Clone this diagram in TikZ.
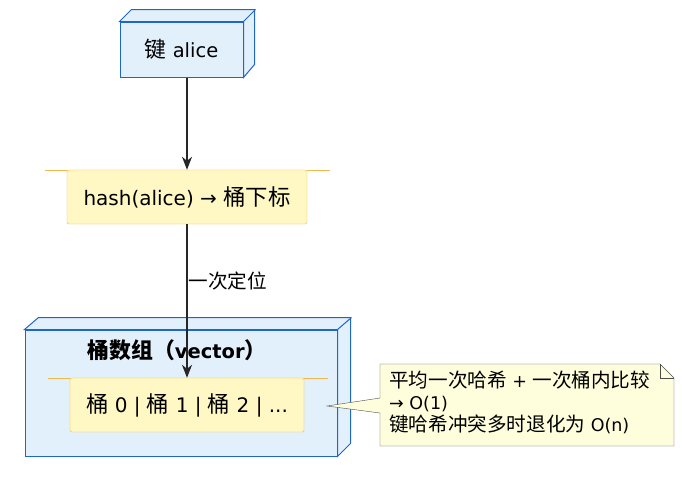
\documentclass[tikz,border=0pt]{standalone}
\usepackage{fontspec}
\setmainfont{DejaVu Sans}
\newfontfamily\cjk{Noto Sans CJK SC}[Scale=1.12]
\newcommand{\zh}[1]{{\cjk #1}}
\usetikzlibrary{arrows.meta,positioning,calc}
\definecolor{nodefill}{HTML}{E2F0FC}
\definecolor{nodeline}{HTML}{1E66C8}
\definecolor{cardfill}{HTML}{FFF8C4}
\definecolor{cardline}{HTML}{F2B84B}
\definecolor{notefill}{HTML}{FEFEDC}
\tikzset{
  box node/.style={
    draw=nodeline,
    fill=nodefill,
    line width=1pt,
    inner sep=0pt
  },
  card/.style={
    draw=cardline,
    fill=cardfill,
    rounded corners=2,
    inner sep=0pt,
    font=\fontsize{20}{24}\selectfont
  },
  flow/.style={
    -{Stealth[length=13pt,width=10pt,inset=4pt]},
    line width=1.3pt,
    draw=black!85
  }
}
\begin{document}
\begin{tikzpicture}[x=1pt,y=-1pt]
    \useasboundingbox (0,0) rectangle (682,480);
    % key node
    \node[box node,minimum width=123pt,minimum height=55pt] (key) at (181.5,49.5) {};
    \draw[nodeline,line width=1pt,fill=nodefill] (key.north west) -- ++(12,-12) -- ++(123,0) -- ++(0,55) -- (key.south east) -- (key.north east) -- cycle;
    \draw[nodeline,line width=1pt] (key.north east) -- ++(12,-12);
    \node[font=\fontsize{19.5}{22}\selectfont] (keytext) at (key) {\zh{键} alice};
    % bucket array
    \node[box node,minimum width=312pt,minimum height=126pt] (array) at (181,393) {};
    \draw[nodeline,line width=1pt,fill=nodefill] (array.north west) -- ++(14,-12) -- ++(312,0) -- ++(0,126) -- (array.south east) -- (array.north east) -- cycle;
    \draw[nodeline,line width=1pt] (array.north east) -- ++(14,-12);
    \node[font=\fontsize{19.5}{22}\selectfont\bfseries] (title) at (177,350) {\zh{\bfseries 桶数组（}vector\zh{\bfseries ）}};
    % cards
    \node[card,minimum width=240pt,minimum height=54pt] (hash) at (187,197) {hash(alice) → \zh{桶下标}};
    \draw[cardline] (hash.north west) -- ++(-22,0) (hash.north east) -- ++(23,0);
    \node[card,minimum width=234pt,minimum height=54pt] (bucket) at (187,405) {\zh{桶} 0 | \zh{桶} 1 | \zh{桶} 2 | ...};
    \draw[cardline] (bucket.north west) -- ++(-22,0) (bucket.north east) -- ++(24,0);
    % note
    \coordinate (tip) at (327,406);
    \draw[black!70,fill=notefill] (380,364) -- (660,364) -- (674,378) -- (674,446) -- (380,446)
      -- (380,413) -- (tip) -- (380,398) -- cycle;
    \draw[black!70] (660,364) -- (660,378) -- (674,378);
    \node[anchor=north west,align=left,inner sep=0pt,font=\fontsize{17.5}{22}\selectfont] (note) at (389,371)
      {\zh{平均一次哈希} + \zh{一次桶内比较}\\→ O(1)\\\zh{键哈希冲突多时退化为} O(n)};
    % arrows
    \draw[flow] (key.south -| hash) -- (hash);
    \draw[flow] (hash) -- node[right,pos=0.37,inner sep=1pt,font=\fontsize{17.5}{20}\selectfont] {\zh{一次定位}} (bucket.north);
\end{tikzpicture}
\end{document}
